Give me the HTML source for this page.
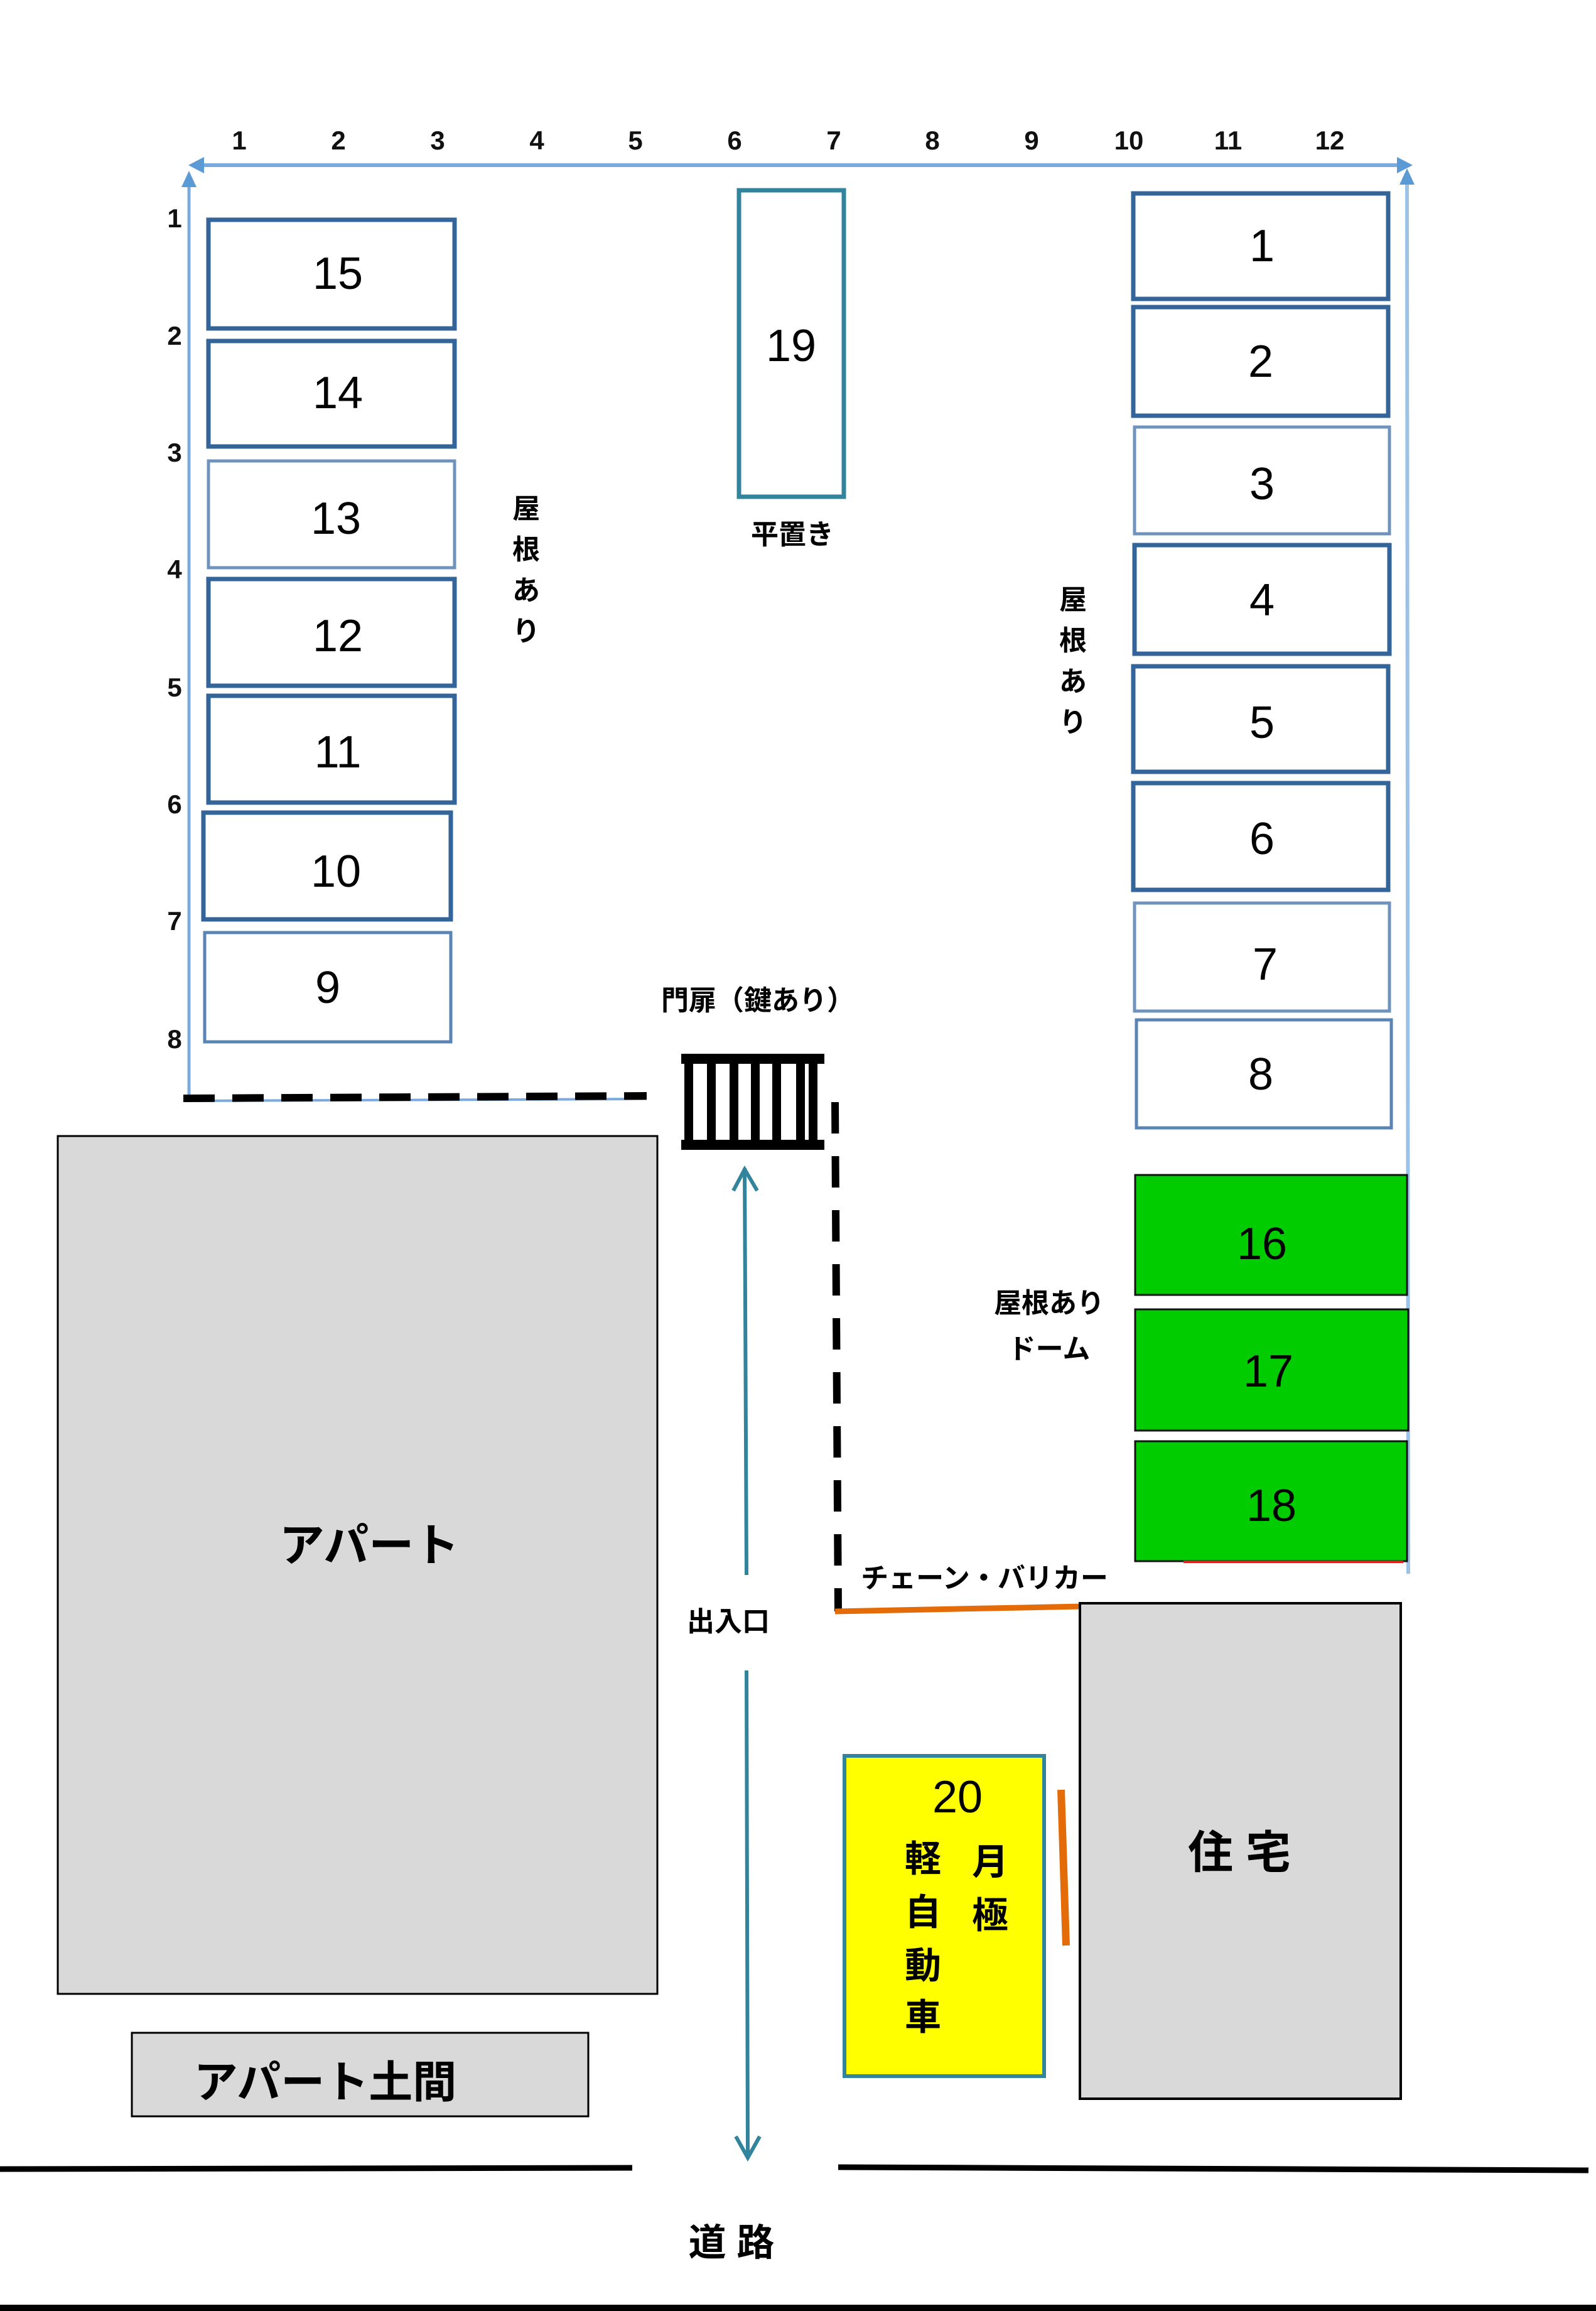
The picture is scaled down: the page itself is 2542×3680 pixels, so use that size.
<!DOCTYPE html>
<html><head><meta charset="utf-8"><style>
html,body{margin:0;padding:0;background:#fff}
svg{display:block}
text{font-family:"Liberation Sans","Noto Sans CJK JP",sans-serif}
.n{font-size:72px;fill:#000;text-anchor:middle}
.ax{font-family:"Liberation Serif",serif;font-weight:bold;font-size:42px;fill:#111;text-anchor:middle}
.j{font-family:"Liberation Sans","Noto Sans CJK JP",sans-serif;font-weight:bold;fill:#000;text-anchor:middle}
</style></head><body>
<svg width="2542" height="3680" viewBox="0 0 2542 3680" xmlns="http://www.w3.org/2000/svg">
<defs>
<marker id="ab" markerWidth="10" markerHeight="10" refX="8" refY="5" orient="auto" markerUnits="userSpaceOnUse" viewBox="0 0 10 10"><path d="M0,0 L10,5 L0,10 z" fill="#5b9bd5"/></marker>
</defs>
<!-- axes -->
<line x1="315" y1="263" x2="2240" y2="263" stroke="#7aaade" stroke-width="6"/>
<path d="M300,263 L325,250 L325,276 z" fill="#5b9bd5"/>
<path d="M2250,263 L2225,250 L2225,276 z" fill="#5b9bd5"/>
<line x1="301" y1="290" x2="301" y2="1755" stroke="#7aaade" stroke-width="5"/>
<path d="M301,272 L289,298 L313,298 z" fill="#5b9bd5"/>
<line x1="2241" y1="290" x2="2243" y2="2506" stroke="#9cc2e8" stroke-width="6"/>
<path d="M2241,268 L2229,294 L2253,294 z" fill="#5b9bd5"/>
<line x1="292" y1="1753" x2="1030" y2="1750" stroke="#7aaade" stroke-width="4"/>
<!-- top numbers -->
<g class="ax">
<text x="381" y="238">1</text><text x="539" y="238">2</text><text x="697" y="238">3</text><text x="855" y="238">4</text><text x="1012" y="238">5</text><text x="1170" y="238">6</text><text x="1328" y="238">7</text><text x="1485" y="238">8</text><text x="1643" y="238">9</text><text x="1798" y="238">10</text><text x="1956" y="238">11</text><text x="2118" y="238">12</text>
<text x="278" y="362">1</text><text x="278" y="549">2</text><text x="278" y="735">3</text><text x="278" y="921">4</text><text x="278" y="1109">5</text><text x="278" y="1295">6</text><text x="278" y="1481">7</text><text x="278" y="1669">8</text>
</g>
<!-- left boxes -->
<g fill="#fff" stroke="#34659a" stroke-width="7">
<rect x="332" y="350" width="392" height="173"/>
<rect x="332" y="543" width="392" height="168"/>
<rect x="332" y="734" width="392" height="170" stroke="#6f93bc" stroke-width="5"/>
<rect x="332" y="922" width="392" height="170"/>
<rect x="332" y="1108" width="392" height="170"/>
<rect x="324" y="1294" width="394" height="170"/>
<rect x="326" y="1485" width="392" height="174" stroke="#5a84b4" stroke-width="5"/>
</g>
<g class="n">
<text x="538" y="460">15</text><text x="538" y="650">14</text><text x="535" y="850">13</text><text x="538" y="1037">12</text><text x="538" y="1222">11</text><text x="535" y="1412">10</text><text x="522" y="1597">9</text>
</g>
<!-- 19 -->
<rect x="1177" y="303" width="167" height="488" fill="#fff" stroke="#31849b" stroke-width="7"/>
<text class="n" x="1260" y="575">19</text>
<text class="j" x="1262" y="866" font-size="44">平置き</text>
<g class="j" font-size="44"><text x="838" y="825">屋</text><text x="838" y="890">根</text><text x="838" y="955">あ</text><text x="838" y="1020">り</text></g>
<g class="j" font-size="44"><text x="1709" y="970">屋</text><text x="1709" y="1035">根</text><text x="1709" y="1100">あ</text><text x="1709" y="1165">り</text></g>
<!-- right boxes -->
<g fill="#fff" stroke="#34659a" stroke-width="7">
<rect x="1805" y="308" width="406" height="168"/>
<rect x="1805" y="489" width="406" height="173"/>
<rect x="1807" y="680" width="406" height="170" stroke="#6f93bc" stroke-width="5"/>
<rect x="1807" y="868" width="406" height="173"/>
<rect x="1805" y="1061" width="406" height="168"/>
<rect x="1805" y="1247" width="406" height="170"/>
<rect x="1807" y="1438" width="406" height="172" stroke="#6f93bc" stroke-width="5"/>
<rect x="1810" y="1624" width="406" height="172" stroke="#5a84b4" stroke-width="5"/>
</g>
<g class="n">
<text x="2010" y="416">1</text><text x="2008" y="600">2</text><text x="2010" y="795">3</text><text x="2010" y="980">4</text><text x="2010" y="1175">5</text><text x="2010" y="1360">6</text><text x="2015" y="1560">7</text><text x="2008" y="1735">8</text>
</g>
<!-- green -->
<g fill="#00cc00" stroke="#111" stroke-width="3">
<rect x="1808" y="1871" width="433" height="191"/>
<rect x="1808" y="2085" width="435" height="193"/>
<rect x="1808" y="2295" width="433" height="191"/>
</g>
<line x1="1885" y1="2487" x2="2235" y2="2487" stroke="#e02020" stroke-width="4"/>
<g class="n"><text x="2010" y="1005">‍</text><text x="2010" y="1005"> </text></g>
<g class="n"><text x="2010" y="1005"></text></g>
<g class="n"><text x="2010" y="1005"></text></g>
<g class="n"><text x="2010" y="2005">16</text><text x="2020" y="2208">17</text><text x="2025" y="2422">18</text></g>
<text class="j" x="1671" y="2090" font-size="44">屋根あり</text>
<text class="j" x="1671" y="2163" font-size="44">ドーム</text>
<!-- gate -->
<text class="j" x="1207" y="1608" font-size="44">門扉（鍵あり）</text>
<g fill="#000">
<rect x="1085" y="1678" width="228" height="16"/>
<rect x="1085" y="1815" width="228" height="16"/>
<rect x="1090" y="1678" width="14" height="153"/><rect x="1126" y="1678" width="14" height="153"/><rect x="1162" y="1678" width="14" height="153"/><rect x="1196" y="1678" width="14" height="153"/><rect x="1230" y="1678" width="14" height="153"/><rect x="1268" y="1678" width="14" height="153"/><rect x="1288" y="1678" width="14" height="153"/>
</g>
<!-- dashed -->
<line x1="292" y1="1749" x2="1030" y2="1745" stroke="#000" stroke-width="12" stroke-dasharray="50,28"/>
<line x1="1330" y1="1755" x2="1335" y2="2566" stroke="#000" stroke-width="12" stroke-dasharray="50,36"/>
<line x1="1330" y1="2566" x2="1723" y2="2558" stroke="#e36c09" stroke-width="9"/>
<text class="j" x="1568" y="2528" font-size="44">チェーン・バリカー</text>
<!-- apartment -->
<rect x="92" y="1809" width="955" height="1366" fill="#d9d9d9" stroke="#000" stroke-width="3"/>
<text class="j" x="588" y="2486" font-size="72">アパート</text>
<rect x="210" y="3237" width="727" height="133" fill="#d9d9d9" stroke="#000" stroke-width="3"/>
<text class="j" x="518" y="3340" font-size="70">アパート土間</text>
<!-- entrance arrows -->
<g stroke="#31849b" stroke-width="6" fill="none">
<line x1="1186" y1="1860" x2="1189" y2="2508"/>
<path d="M1168,1896 L1186,1862 L1206,1896"/>
<line x1="1189" y1="2660" x2="1191" y2="3436"/>
<path d="M1172,3402 L1191,3436 L1210,3402"/>
</g>
<text class="j" x="1160" y="2597" font-size="44">出入口</text>
<!-- house -->
<rect x="1720" y="2553" width="511" height="789" fill="#d9d9d9" stroke="#000" stroke-width="4"/>
<text class="j" x="1974" y="2975" font-size="72">住 宅</text>
<line x1="1690" y1="2850" x2="1698" y2="3098" stroke="#e36c09" stroke-width="12"/>
<!-- yellow -->
<rect x="1345" y="2796" width="318" height="510" fill="#ffff00" stroke="#31849b" stroke-width="6"/>
<text x="1525" y="2886" font-size="72" text-anchor="middle" fill="#000">20</text>
<g class="j" font-size="58"><text x="1470" y="2980">軽</text><text x="1470" y="3065">自</text><text x="1470" y="3150">動</text><text x="1470" y="3232">車</text><text x="1577" y="2985">月</text><text x="1577" y="3070">極</text></g>
<!-- road -->
<line x1="0" y1="3454" x2="1007" y2="3452" stroke="#000" stroke-width="9"/>
<line x1="1335" y1="3451" x2="2530" y2="3456" stroke="#000" stroke-width="9"/>
<line x1="0" y1="3675" x2="2542" y2="3675" stroke="#000" stroke-width="10"/>
<text class="j" x="1165" y="3592" font-size="60">道 路</text>
</svg>
</body></html>
